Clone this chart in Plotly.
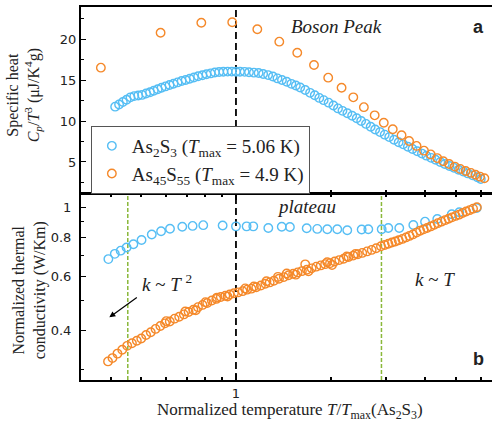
import plotly.graph_objects as go

# ---------------- data ----------------
# Panel a: specific heat C_p/T^3 (uJ/K^4 g) vs normalized temperature T/Tmax(As2S3)
t_cp_as2s3 = [0.413, 0.425, 0.437, 0.449, 0.462, 0.475, 0.489, 0.503, 0.518, 0.533, 0.548,
              0.564, 0.58, 0.597, 0.615, 0.633, 0.652, 0.672, 0.692, 0.713, 0.735, 0.758,
              0.782, 0.806, 0.831, 0.857, 0.884, 0.912, 0.941, 0.970, 1.0,
              1.03, 1.065, 1.10, 1.14, 1.18, 1.22, 1.265, 1.31, 1.355, 1.40, 1.45, 1.50,
              1.55, 1.60, 1.66, 1.72, 1.78, 1.84, 1.90, 1.97, 2.04, 2.11, 2.18, 2.26, 2.34,
              2.42, 2.50, 2.59, 2.68, 2.77, 2.87, 2.97, 3.07, 3.18, 3.29, 3.40, 3.52, 3.64,
              3.77, 3.90, 4.03, 4.17, 4.31, 4.46, 4.61, 4.77, 4.93, 5.10, 5.28, 5.46, 5.65,
              5.85, 6.0]
cp_as2s3 = [11.76, 12.03, 12.33, 12.6, 12.9, 13.05, 13.13, 13.2, 13.37, 13.53, 13.7,
            13.89, 14.07, 14.24, 14.41, 14.57, 14.73, 14.9, 15.03, 15.17, 15.33, 15.48,
            15.6, 15.72, 15.83, 15.94, 16.0, 16.04, 16.05, 16.05, 16.04,
            16.04, 16.02, 15.97, 15.92, 15.87, 15.75, 15.62, 15.45, 15.22, 15.03, 14.8, 14.55,
            14.35, 14.1, 13.8, 13.45, 13.15, 12.83, 12.56, 12.25, 11.9, 11.55, 11.25, 10.95, 10.65,
            10.35, 10.0, 9.65, 9.3, 8.97, 8.65, 8.34, 8.04, 7.72, 7.41, 7.15, 6.85, 6.58,
            6.3, 6.02, 5.77, 5.5, 5.26, 4.99, 4.74, 4.5, 4.28, 4.05, 3.82, 3.6, 3.36,
            3.12, 2.92]

t_cp_as45s55 = [0.372, 0.576, 0.776, 0.973, 1.169, 1.373, 1.566, 1.77, 1.964, 2.166, 2.36,
                2.55, 2.76, 2.95, 3.15, 3.36, 3.55, 3.75, 3.96, 4.16, 4.36, 4.56, 4.76, 4.96,
                5.16, 5.37, 5.58, 5.77, 5.97, 6.16]
cp_as45s55 = [16.53, 20.8, 22.03, 22.08, 21.22, 19.71, 18.36, 16.86, 15.31, 14.08, 12.9,
              11.7, 10.7, 9.8, 9.0, 8.26, 7.57, 6.96, 6.38, 5.92, 5.47, 5.08, 4.74, 4.43,
              4.15, 3.9, 3.66, 3.43, 3.2, 3.0]

# Panel b: normalized thermal conductivity
t_k_as2s3 = [0.393, 0.412, 0.430, 0.449, 0.472, 0.501, 0.540, 0.578, 0.617, 0.675, 0.728,
             0.787, 0.907, 1.0, 1.081, 1.135, 1.267, 1.398, 1.484, 1.678, 1.813, 1.951,
             2.099, 2.258, 2.509, 2.634, 2.905, 3.049, 3.304, 3.662, 3.99, 4.364, 4.851,
             5.128, 5.823]
k_as2s3 = [0.681, 0.708, 0.725, 0.742, 0.760, 0.785, 0.817, 0.837, 0.853, 0.866, 0.871,
           0.876, 0.874, 0.868, 0.868, 0.868, 0.858, 0.866, 0.864, 0.856, 0.852, 0.850,
           0.850, 0.843, 0.848, 0.850, 0.850, 0.858, 0.858, 0.877, 0.899, 0.917, 0.950,
           0.964, 0.995]

t_k_as45s55 = [0.392, 0.405, 0.42, 0.435, 0.451, 0.467, 0.484, 0.50, 0.518, 0.536, 0.555,
               0.575, 0.595, 0.616, 0.638, 0.66, 0.683, 0.707, 0.732, 0.757, 0.783, 0.81,
               0.838, 0.866, 0.895, 0.925, 0.955, 0.985,
               1.015, 1.05, 1.085, 1.12, 1.16, 1.20, 1.24, 1.28, 1.32, 1.37, 1.42, 1.47,
               1.52, 1.57, 1.62, 1.68, 1.74, 1.80, 1.86, 1.92, 1.99, 2.06, 2.13, 2.20,
               2.28, 2.36, 2.44, 2.52, 2.61, 2.70, 2.79, 2.89,
               2.97, 3.05, 3.13, 3.21, 3.29, 3.38, 3.47, 3.56, 3.65, 3.75, 3.85, 3.95,
               4.05, 4.16, 4.27, 4.38, 4.50, 4.62, 4.74, 4.86, 4.99, 5.12, 5.25, 5.39,
               5.53, 5.67, 5.83,
               0.60, 0.69, 0.745, 0.80, 0.87, 0.94, 1.07, 1.14, 1.25, 1.36, 1.45, 1.55,
               1.66, 1.70, 1.95, 2.02, 2.25, 2.40]
k_as45s55 = [0.319, 0.327, 0.338, 0.348, 0.358, 0.365, 0.372, 0.378, 0.388, 0.396, 0.406,
             0.415, 0.423, 0.429, 0.438, 0.444, 0.452, 0.460, 0.468, 0.477, 0.485, 0.492,
             0.501, 0.507, 0.514, 0.519, 0.524, 0.529,
             0.532, 0.537, 0.543, 0.547, 0.553, 0.560, 0.567, 0.573, 0.580, 0.589, 0.596, 0.604,
             0.611, 0.617, 0.623, 0.629, 0.636, 0.644, 0.650, 0.656, 0.661, 0.669, 0.676, 0.683,
             0.692, 0.699, 0.706, 0.713, 0.721, 0.729, 0.738, 0.749,
             0.756, 0.763, 0.770, 0.776, 0.783, 0.791, 0.800, 0.809, 0.818, 0.829, 0.840, 0.849,
             0.858, 0.868, 0.878, 0.889, 0.899, 0.909, 0.918, 0.928, 0.938, 0.947, 0.958, 0.969,
             0.979, 0.990, 1.0,
             0.430, 0.462, 0.466, 0.495, 0.512, 0.516, 0.548, 0.556, 0.578, 0.597, 0.612, 0.607,
             0.655, 0.622, 0.665, 0.652, 0.694, 0.708]

# reference temperatures: Tmax and the two crossover markers
t_peak = 1.0
t_crossovers = [0.453, 2.90]

series_names = ["As<sub>2</sub>S<sub>3</sub> (<i>T</i><sub>max</sub> = 5.06 K)",
                "As<sub>45</sub>S<sub>55</sub> (<i>T</i><sub>max</sub> = 4.9 K)"]

x_ticks_minor = [0.4, 0.5, 0.6, 0.7, 0.8, 0.9, 2, 3, 4, 5, 6]

# ---------------- styling ----------------
BLUE = "#56BEF4"
ORANGE = "#F5892A"
GREEN = "#8AB83A"
SERIF = "Liberation Serif"
SANS = "DejaVu Sans"
INK = "#222222"

X_RANGE = [-0.4926, 0.8138]
Y1_RANGE = [1.2, 23.95]
Y2_RANGE = [-0.556, 0.0428]

fig = go.Figure()


def markers(color):
    return dict(symbol="circle-open", size=8.5, color=color, line=dict(width=1.4, color=color))


# vertical guide lines
fig.add_trace(go.Scatter(x=[t_peak, t_peak], y=Y1_RANGE, mode="lines", xaxis="x", yaxis="y",
                         line=dict(color="black", width=1.8, dash="7px,4px"), showlegend=False,
                         hoverinfo="skip"))
fig.add_trace(go.Scatter(x=[t_peak, t_peak], y=[10 ** Y2_RANGE[0], 10 ** Y2_RANGE[1]], mode="lines",
                         xaxis="x2", yaxis="y2",
                         line=dict(color="black", width=1.8, dash="7px,4px"), showlegend=False,
                         hoverinfo="skip"))
for tc in t_crossovers:
    fig.add_trace(go.Scatter(x=[tc, tc], y=[10 ** Y2_RANGE[0], 10 ** Y2_RANGE[1]], mode="lines",
                             xaxis="x2", yaxis="y2",
                             line=dict(color=GREEN, width=1.5, dash="4px,2px"), showlegend=False,
                             hoverinfo="skip"))

# panel a
fig.add_trace(go.Scatter(x=t_cp_as2s3, y=cp_as2s3, mode="markers", name=series_names[0],
                         marker=markers(BLUE), xaxis="x", yaxis="y", legendrank=1))
fig.add_trace(go.Scatter(x=t_cp_as45s55, y=cp_as45s55, mode="markers", name=series_names[1],
                         marker=markers(ORANGE), xaxis="x", yaxis="y", legendrank=2))
# panel b
fig.add_trace(go.Scatter(x=t_k_as2s3, y=k_as2s3, mode="markers", name=series_names[0],
                         marker=markers(BLUE), xaxis="x2", yaxis="y2", showlegend=False))
fig.add_trace(go.Scatter(x=t_k_as45s55, y=k_as45s55, mode="markers", name=series_names[1],
                         marker=markers(ORANGE), xaxis="x2", yaxis="y2", showlegend=False))

axis_common = dict(showline=True, linewidth=2, linecolor="black", showgrid=False, zeroline=False,
                   tickcolor="black", tickfont=dict(family=SANS, size=13, color=INK))

fig.update_layout(
    width=492, height=422,
    margin=dict(l=81, r=0, t=7, b=42),
    paper_bgcolor="white", plot_bgcolor="white",
    xaxis=dict(type="log", range=X_RANGE, domain=[0, 1], anchor="y", mirror=True,
               ticks="inside", tickvals=[1], ticklen=6, tickwidth=1.5, showticklabels=False,
               minor=dict(tickvals=x_ticks_minor, ticks="inside", ticklen=3, tickcolor="black"),
               **axis_common),
    xaxis2=dict(type="log", range=X_RANGE, domain=[0, 1], anchor="y2", mirror="ticks",
                ticks="inside", tickvals=[1], ticktext=["1"], ticklen=6, tickwidth=1.5,
                minor=dict(tickvals=x_ticks_minor, ticks="inside", ticklen=3, tickcolor="black"),
                **axis_common),
    yaxis=dict(range=Y1_RANGE, domain=[0.5013, 1], anchor="x", ticks="inside",
               tickvals=[5, 10, 15, 20], ticklen=5,
               minor=dict(tickvals=[2.5, 7.5, 12.5, 17.5, 22.5], ticks="inside", ticklen=3,
                          tickcolor="black"),
               **axis_common),
    yaxis2=dict(type="log", range=Y2_RANGE, domain=[0, 0.4987], anchor="x2", ticks="inside",
                tickvals=[0.4, 0.6, 0.8, 1], ticktext=["0.4", "0.6", "0.8", "1"], ticklen=5,
                ticklabelstandoff=5,
                minor=dict(tickvals=[0.3, 0.5, 0.7, 0.9], ticks="inside", ticklen=3,
                           tickcolor="black"),
                **axis_common),
    legend=dict(x=0.024, y=0.681, xanchor="left", yanchor="top", bgcolor="white",
                bordercolor="#555555", borderwidth=1,
                font=dict(family=SERIF, size=19, color=INK)),
)

annotations = [
    # axis titles
    dict(text="Specific heat<br><i>C</i><sub><i>p</i></sub>/<i>T</i><sup>3</sup> (μJ/K<sup>4</sup>g)",
         x=-0.138, y=0.764, textangle=-90, font=dict(family=SERIF, size=16, color=INK)),
    dict(text="Normalized thermal<br>conductivity (W/Km)",
         x=-0.126, y=0.241, textangle=-90, font=dict(family=SERIF, size=16, color=INK)),
    dict(text="Normalized temperature <i>T</i>/<i>T</i><sub>max</sub>(As<sub>2</sub>S<sub>3</sub>)",
         x=0.5085, y=-0.084, font=dict(family=SERIF, size=17, color=INK)),
    # in-plot labels
    dict(text="<i>Boson Peak</i>", x=0.6217, y=0.9464, font=dict(family=SERIF, size=19, color=INK)),
    dict(text="<b>a</b>", x=0.966, y=0.9464, font=dict(family="Liberation Sans", size=18, color=INK)),
    dict(text="<i>plateau</i>", x=0.549, y=0.464, font=dict(family=SERIF, size=19, color=INK)),
    dict(text="<i>k</i> ~ <i>T</i>", x=0.8613, y=0.2681, font=dict(family=SERIF, size=19, color=INK)),
    dict(text="<b>b</b>", x=0.968, y=0.0563, font=dict(family="Liberation Sans", size=18, color=INK)),
    dict(text="<i>k</i> ~ <i>T</i> <sup>2</sup>", x=0.2085, y=0.26,
         font=dict(family=SERIF, size=19, color=INK)),
]
for a in annotations:
    a.update(xref="paper", yref="paper", showarrow=False, xanchor="center", yanchor="middle")
    fig.add_annotation(**a)

# arrow pointing toward the low-temperature k ~ T^2 regime
fig.add_annotation(x=0.0689, y=0.168, xref="paper", yref="paper", ax=29, ay=-21,
                   showarrow=True, arrowhead=2, arrowsize=1, arrowwidth=1.2, arrowcolor="black",
                   text="")

fig.write_html("out.html")
